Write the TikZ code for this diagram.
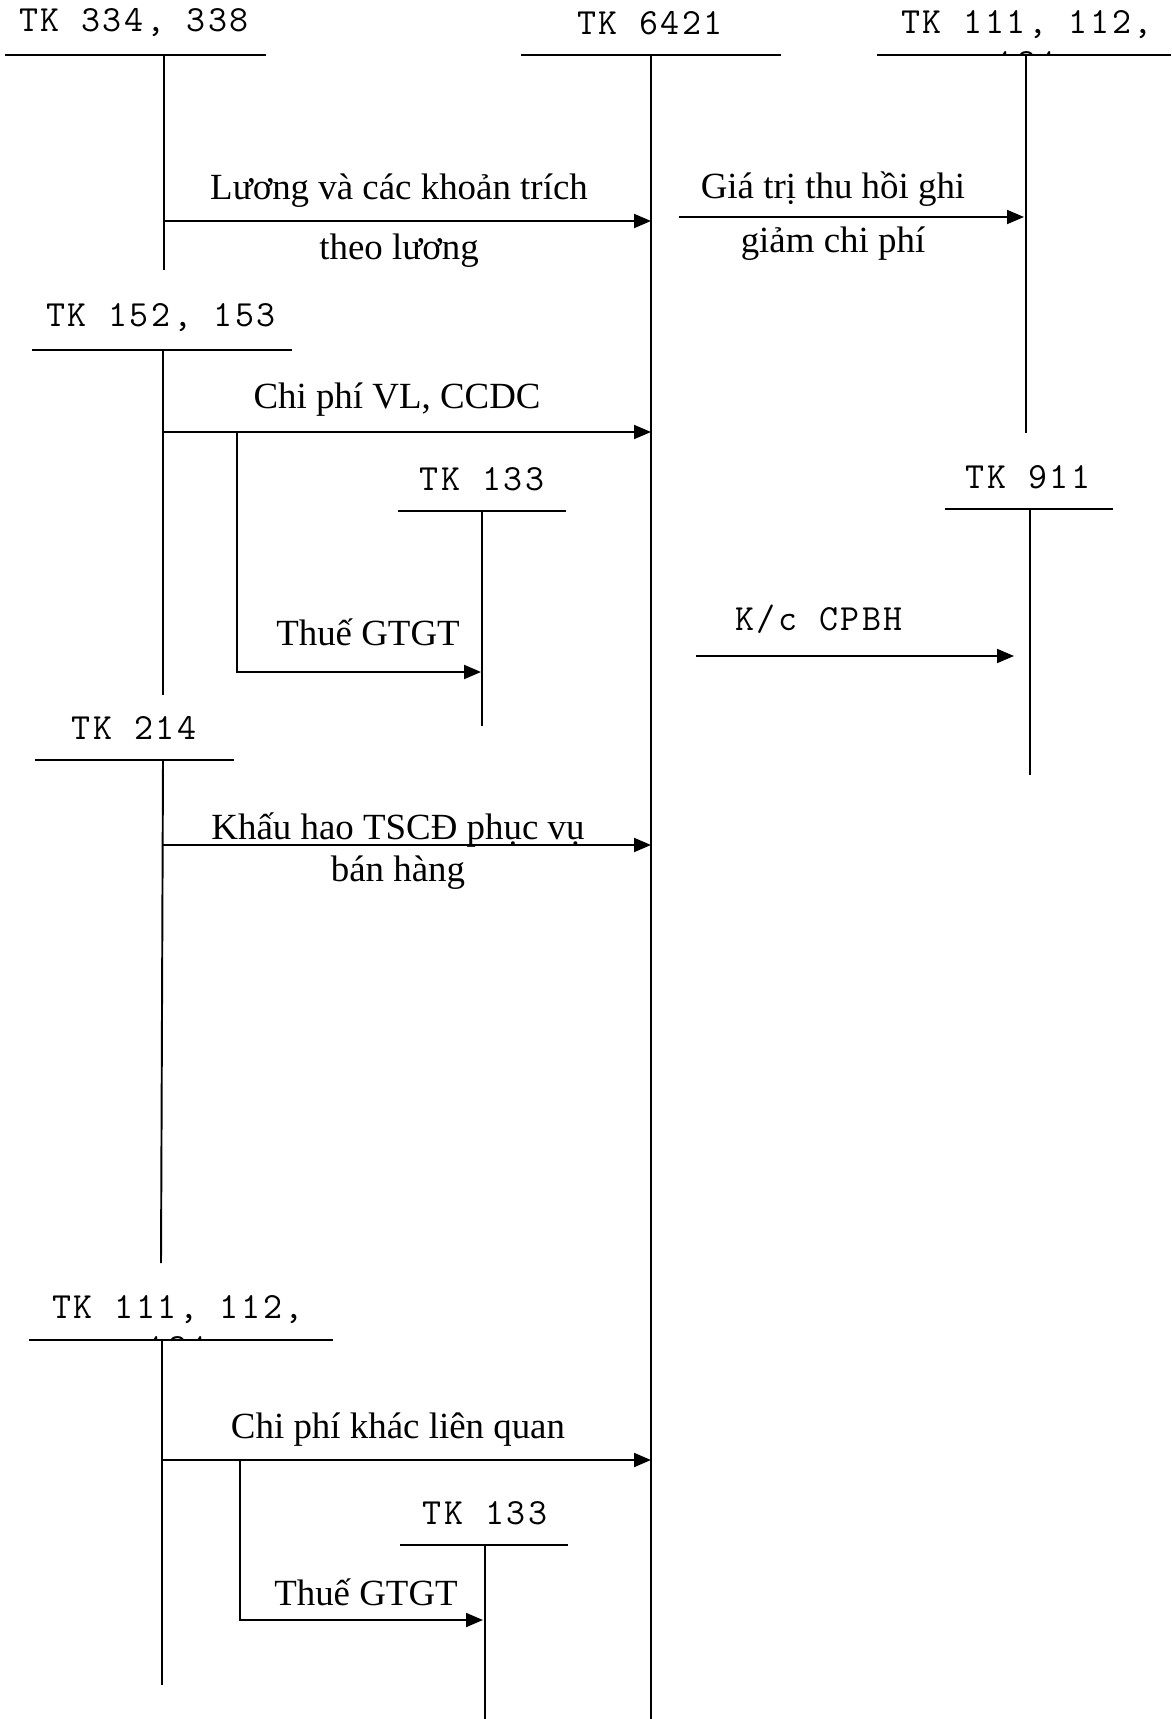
\documentclass[tikz,border=0pt]{standalone}
\usepackage{fontspec}
\setmainfont{Liberation Serif}
\setmonofont{Latin Modern Mono}[LetterSpace=7]
\usetikzlibrary{arrows.meta}

\begin{document}
\begin{tikzpicture}[x=0.02cm, y=-0.02cm,
    acct/.style={font=\ttfamily\fontsize{21}{24}\selectfont, inner sep=0pt},
    lbl/.style={font=\fontsize{21}{24}\selectfont, inner sep=0pt, align=center},
    ln/.style={line width=1.1pt},
    arr/.style={-{Triangle[length=3.4mm,width=2.8mm]}, line width=1.1pt}
  ]
  \useasboundingbox (0,0) rectangle (1171,1719);

  % T-accounts
  \node[acct] (tk334) at (134,23) {TK 334, 338};
  \coordinate (tk334w) at (5,55);  \coordinate (tk334e) at (266,55);
  \coordinate (tk334t) at (164,55); \coordinate (tk334b) at (164,270);

  \node[acct] (tk6421) at (650,23) {TK 6421};
  \coordinate (tk6421w) at (521,55); \coordinate (tk6421e) at (781,55);
  \coordinate (tk6421t) at (651,55); \coordinate (tk6421b) at (651,1719);

  \node[acct] (tk111a) at (1027,25) {TK 111, 112,};
  \begin{scope}
    \clip (877,0) rectangle (1171,55);
    \node[acct] (tk111ax) at (1027,63) {131};
  \end{scope}
  \coordinate (tk111aw) at (877,55); \coordinate (tk111ae) at (1171,55);
  \coordinate (tk111at) at (1026,55); \coordinate (tk111ab) at (1026,433);

  \node[acct] (tk152) at (161,318) {TK 152, 153};
  \coordinate (tk152w) at (32,350); \coordinate (tk152e) at (292,350);
  \coordinate (tk152t) at (163,350); \coordinate (tk152b) at (163,695);

  \node[acct] (tk133a) at (482,479) {TK 133};
  \coordinate (tk133aw) at (398,511); \coordinate (tk133ae) at (566,511);
  \coordinate (tk133at) at (482,511); \coordinate (tk133ab) at (482,726);

  \node[acct] (tk911) at (1028,477) {TK 911};
  \coordinate (tk911w) at (945,509); \coordinate (tk911e) at (1113,509);
  \coordinate (tk911t) at (1030,509); \coordinate (tk911b) at (1030,775);

  \node[acct] (tk214) at (134,728) {TK 214};
  \coordinate (tk214w) at (35,760); \coordinate (tk214e) at (234,760);
  \coordinate (tk214t) at (163,760); \coordinate (tk214b) at (161,1263);

  \node[acct] (tk111b) at (178,1310) {TK 111, 112,};
  \begin{scope}
    \clip (29,1280) rectangle (333,1340);
    \node[acct] (tk111bx) at (178,1348) {131};
  \end{scope}
  \coordinate (tk111bw) at (29,1340); \coordinate (tk111be) at (333,1340);
  \coordinate (tk111bt) at (162,1340); \coordinate (tk111bb) at (162,1685);

  \node[acct] (tk133b) at (485,1513) {TK 133};
  \coordinate (tk133bw) at (400,1545); \coordinate (tk133be) at (568,1545);
  \coordinate (tk133bt) at (485,1545); \coordinate (tk133bb) at (485,1719);

  \foreach \t in {tk334,tk6421,tk111a,tk152,tk133a,tk911,tk214,tk111b,tk133b} {
    \draw[ln] (\t w) -- (\t e);
    \draw[ln] (\t t) -- (\t b);
  }

  % entries
  \coordinate (l1s) at (164,221); \coordinate (l1e) at (651,221);
  \draw[arr] (l1s) -- (l1e);
  \node[lbl] (luong) at (399,221) {Lương và các khoản trích\\[10pt]theo lương};

  \coordinate (g1s) at (679,217); \coordinate (g1e) at (1024,217);
  \draw[arr] (g1s) -- (g1e);
  \node[lbl] (giatri) at (833,216) {Giá trị thu hồi ghi\\[7pt]giảm chi phí};

  \coordinate (c1s) at (163,432); \coordinate (c1e) at (651,432);
  \draw[arr] (c1s) -- (c1e);
  \node[lbl] (cpvl) at (397,400) {Chi phí VL, CCDC};

  \coordinate (v1s) at (237,432); \coordinate (v1c) at (237,672);
  \coordinate (v1e) at (481,672);
  \draw[arr] (v1s) -- (v1c) -- (v1e);
  \node[lbl] (vat1) at (368,632) {Thuế GTGT};

  \coordinate (k1s) at (696,656); \coordinate (k1e) at (1014,656);
  \draw[arr] (k1s) -- (k1e);
  \node[acct] (kc) at (819,619) {K/c CPBH};

  \coordinate (d1s) at (163,845); \coordinate (d1e) at (651,845);
  \draw[arr] (d1s) -- (d1e);
  \node[lbl] (khauhao) at (398,851) {Khấu hao TSCĐ phục vụ\\bán hàng};

  \coordinate (o1s) at (162,1460); \coordinate (o1e) at (651,1460);
  \draw[arr] (o1s) -- (o1e);
  \node[lbl] (khac) at (398,1430) {Chi phí khác liên quan};

  \coordinate (v2s) at (240,1460); \coordinate (v2c) at (240,1620);
  \coordinate (v2e) at (483,1620);
  \draw[arr] (v2s) -- (v2c) -- (v2e);
  \node[lbl] (vat2) at (366,1592) {Thuế GTGT};
\end{tikzpicture}
\end{document}
